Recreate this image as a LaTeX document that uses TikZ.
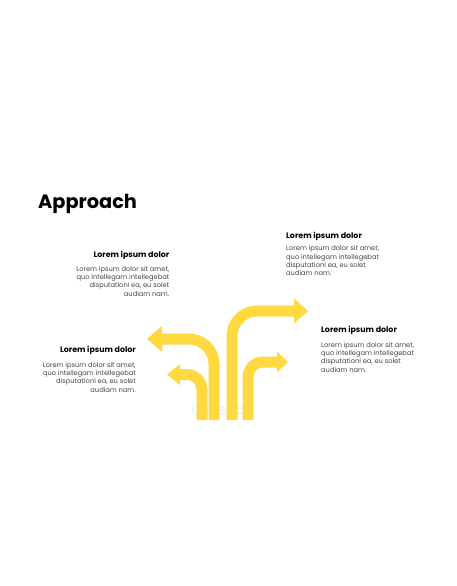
\documentclass[tikz,border=0pt]{standalone}
\usepackage{fontspec}
\setmainfont{Poppins}
\usetikzlibrary{arrows.meta}
\definecolor{routeyellow}{RGB}{255,217,64}
\definecolor{bodygray}{RGB}{70,70,70}
\tikzset{
  route/.style={draw=routeyellow, line width=11pt, rounded corners=#1},
  heading/.style={inner sep=0pt, font=\fontsize{7.9}{9}\selectfont\bfseries},
  blurb/.style={inner sep=0pt, text=bodygray, font=\fontsize{6.7}{8.3}\selectfont},
}
\begin{document}
\begin{tikzpicture}[x=1pt,y=-1pt]
\useasboundingbox[fill=white] (0,0) rectangle (456,586);

% title
\node[inner sep=0pt, anchor=west, font=\fontsize{19.3}{21}\selectfont\bfseries] (title) at (38,203.5) {Approach};

% watermark
\node[text=black!5, font=\fontsize{12}{12}\selectfont\bfseries] (mark) at (222,411) {GILLISHOP};

% the four routes
\draw[route=15pt, -{Triangle[length=13pt,width=21pt,line width=0pt]}] (202,420) -- (202,374.5) -- (167,374.5);
\draw[route=25pt, -{Triangle[length=15pt,width=26pt,line width=0pt]}] (214,420) -- (214,339) -- (147,339);
\draw[route=25pt, -{Triangle[length=14pt,width=25pt,line width=0pt]}] (232,420) -- (232,311) -- (308,311);
\draw[route=15pt, -{Triangle[length=11pt,width=21pt,line width=0pt]}] (248,420) -- (248,362) -- (288,362);

% text blocks
\node[heading, anchor=east] (headA) at (169.5,255) {Lorem ipsum dolor};
\node[blurb, anchor=north east, align=right] (bodyA) at (169.5,266)
  {Lorem ipsum dolor sit amet,\\quo intellegam intellegebat\\disputationi ea, eu solet\\audiam nam.};

\node[heading, anchor=west] (headB) at (286,236) {Lorem ipsum dolor};
\node[blurb, anchor=north west, align=left] (bodyB) at (286,245.5)
  {Lorem ipsum dolor sit amet,\\quo intellegam intellegebat\\disputationi ea, eu solet\\audiam nam.};

\node[heading, anchor=west] (headC) at (321,330) {Lorem ipsum dolor};
\node[blurb, anchor=north west, align=left] (bodyC) at (321,342)
  {Lorem ipsum dolor sit amet,\\quo intellegam intellegebat\\disputationi ea, eu solet\\audiam nam.};

\node[heading, anchor=east] (headD) at (136,350) {Lorem ipsum dolor};
\node[blurb, anchor=north east, align=right] (bodyD) at (136,362)
  {Lorem ipsum dolor sit amet,\\quo intellegam intellegebat\\disputationi ea, eu solet\\audiam nam.};
\end{tikzpicture}
\end{document}
